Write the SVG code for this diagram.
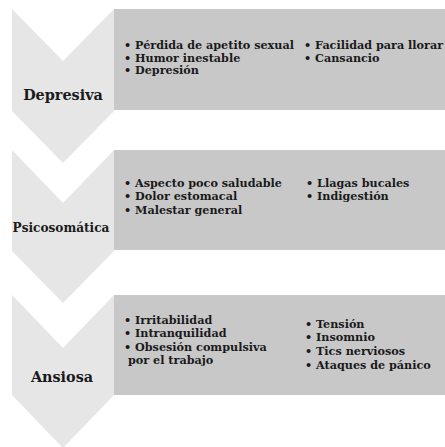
<svg xmlns="http://www.w3.org/2000/svg" width="445" height="447" viewBox="0 0 445 447">
<style>
.chev{fill:#e6e6e7}
.box{fill:#c8c8c9}
.lbl{font-family:"DejaVu Serif","Liberation Serif",serif;font-weight:bold;fill:#1a1a1a;text-anchor:middle}
.it{font-family:"DejaVu Serif","Liberation Serif",serif;font-weight:bold;font-size:11.2px;fill:#1a1a1a}
</style>
<rect width="445" height="447" fill="#ffffff"/>
<g id="depresiva">
<polygon class="chev" points="12,9 63,61 114,9 114,111 63,163 12,111"/>
<rect class="box" x="114" y="9" width="331" height="101"/>
<text class="lbl" x="63" y="100" font-size="14.4">Depresiva</text>
<text class="it" x="124" y="49">• Pérdida de apetito sexual</text>
<text class="it" x="124" y="61.5">• Humor inestable</text>
<text class="it" x="124" y="74">• Depresión</text>
<text class="it" x="304" y="49">• Facilidad para llorar</text>
<text class="it" x="304" y="61.5">• Cansancio</text>
</g>
<g id="psicosomatica">
<polygon class="chev" points="12,150 63,203 114,150 114,251 63,303 12,251"/>
<rect class="box" x="114" y="150" width="331" height="100"/>
<text class="lbl" x="61" y="232" font-size="12.1">Psicosomática</text>
<text class="it" x="124" y="187">• Aspecto poco saludable</text>
<text class="it" x="124" y="200">• Dolor estomacal</text>
<text class="it" x="124" y="213.5">• Malestar general</text>
<text class="it" x="306" y="187">• Llagas bucales</text>
<text class="it" x="306" y="200">• Indigestión</text>
</g>
<g id="ansiosa">
<polygon class="chev" points="12,295 63,348 114,295 114,395 63,448 12,395"/>
<rect class="box" x="114" y="295" width="331" height="100"/>
<text class="lbl" x="62" y="382" font-size="14.4">Ansiosa</text>
<text class="it" x="124" y="324">• Irritabilidad</text>
<text class="it" x="124" y="337">• Intranquilidad</text>
<text class="it" x="124" y="350.5">• Obsesión compulsiva</text>
<text class="it" x="128" y="364">por el trabajo</text>
<text class="it" x="305" y="328">• Tensión</text>
<text class="it" x="305" y="341">• Insomnio</text>
<text class="it" x="305" y="355">• Tics nerviosos</text>
<text class="it" x="305" y="369">• Ataques de pánico</text>
</g>
<g id="connectors"></g>
</svg>
